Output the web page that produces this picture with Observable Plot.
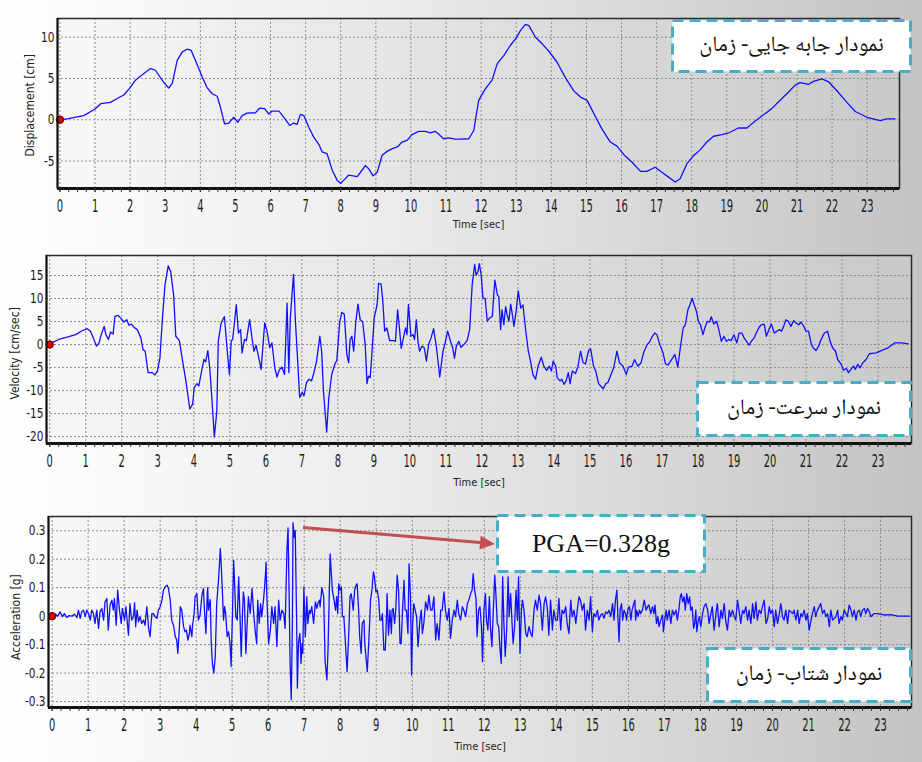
<!DOCTYPE html>
<html>
<head>
<meta charset="utf-8">
<script src="https://cdn.jsdelivr.net/npm/d3@7"></script>
<script src="https://cdn.jsdelivr.net/npm/@observablehq/plot@0.6"></script>
<style>
  html, body { margin: 0; padding: 0; }
  #root { position: relative; width: 922px; height: 762px; overflow: hidden;
          background: linear-gradient(to right, #ffffff 0%, #ededed 40%, #c3c3c3 100%); }
  #root > svg { position: absolute; left: 0; }
  .box { position: absolute; display: flex; align-items: center; justify-content: center; }
  .box svg { position: absolute; left: 0; top: 0; }
  .fa { position: relative; font-family: "Noto Naskh Arabic", "DejaVu Sans", sans-serif; font-size: 22px; color: #111; direction: rtl; white-space: nowrap; }
  .pga { position: relative; font-family: "Liberation Serif", "Times New Roman", serif; font-size: 26px; color: #111; white-space: nowrap; }
</style>
</head>
<body>
<div id="root"></div>
<script>
// ---------------- DATA ----------------
const timeTicks = [0,1,2,3,4,5,6,7,8,9,10,11,12,13,14,15,16,17,18,19,20,21,22,23];
const dispTicks = [-5, 0, 5, 10];
const velTicks = [-20, -15, -10, -5, 0, 5, 10, 15];
const accTicks = [-0.3, -0.2, -0.1, 0, 0.1, 0.2, 0.3];

// Displacement [cm] : [time s, value]
const displacement = [[0,0],[0.2,0.1],[0.68,0.5],[1.0,1.3],[1.16,1.95],[1.44,2.1],[1.68,2.7],[1.82,3.0],[2.0,3.9],[2.15,4.8],
[2.39,5.6],[2.58,6.2],[2.72,6.0],[2.96,4.5],[3.1,3.85],[3.2,4.4],[3.34,7.2],[3.48,8.2],[3.62,8.55],[3.74,8.4],
[3.9,6.8],[4.05,5.2],[4.19,3.9],[4.34,3.15],[4.48,2.85],[4.57,1.55],[4.69,-0.5],[4.81,-0.4],[4.95,0.3],[5.07,-0.3],
[5.19,0.5],[5.33,0.8],[5.57,0.85],[5.69,1.4],[5.83,1.35],[5.95,0.7],[6.05,1.05],[6.24,1.05],[6.38,0.3],[6.55,-0.7],
[6.66,-0.4],[6.76,-0.55],[6.85,0.65],[6.95,0.5],[7.09,-0.9],[7.23,-2.1],[7.38,-3.0],[7.47,-3.9],[7.61,-4.1],[7.76,-6.15],
[7.9,-7.35],[8.0,-7.7],[8.08,-7.35],[8.23,-6.7],[8.47,-6.9],[8.6,-6.15],[8.7,-5.55],[8.8,-5.95],[8.92,-6.8],[9.04,-6.35],
[9.18,-4.3],[9.33,-3.8],[9.47,-3.5],[9.61,-3.3],[9.75,-2.7],[9.89,-2.5],[10.03,-1.8],[10.22,-1.4],[10.41,-1.4],[10.55,-1.6],
[10.69,-1.4],[10.78,-1.7],[10.93,-2.3],[11.07,-2.2],[11.26,-2.35],[11.41,-2.35],[11.65,-2.3],[11.79,-1.3],[11.93,2.35],[12.12,3.75],
[12.31,4.8],[12.46,6.8],[12.65,7.8],[12.83,9.0],[12.98,9.8],[13.12,10.8],[13.26,11.55],[13.36,11.4],[13.55,10.0],[13.74,9.2],
[13.93,8.3],[14.16,7.0],[14.4,5.1],[14.64,3.5],[14.83,2.75],[15.02,2.35],[15.21,0.75],[15.44,-1.1],[15.68,-2.7],[15.87,-3.2],
[16.06,-4.2],[16.3,-5.15],[16.54,-6.25],[16.72,-6.25],[16.96,-5.75],[17.15,-6.35],[17.34,-6.95],[17.53,-7.55],[17.67,-7.15],[17.86,-5.35],
[18.05,-4.35],[18.24,-3.65],[18.43,-2.7],[18.62,-2.0],[18.86,-1.8],[19.05,-1.6],[19.33,-1.0],[19.57,-1.0],[19.81,-0.15],[20.0,0.45],
[20.28,1.35],[20.47,2.15],[20.71,3.15],[20.95,4.2],[21.09,4.5],[21.33,4.3],[21.47,4.65],[21.71,4.95],[21.9,4.6],[22.13,3.55],
[22.37,2.35],[22.66,1.0],[22.99,0.3],[23.37,-0.1],[23.56,0.1],[23.79,0.1]];

// Velocity [cm/sec]
const velocity = [[0,0],[0.11,0.6],[0.25,1.1],[0.48,1.6],[0.72,2.15],[0.9,3.0],[1.04,3.45],[1.13,2.9],[1.21,1.45],[1.3,-0.35],
[1.37,0.35],[1.43,2.15],[1.51,3.95],[1.56,2.15],[1.63,1.1],[1.69,2.75],[1.76,2.3],[1.81,6.1],[1.9,6.35],[1.97,5.75],
[2.06,4.9],[2.14,5.4],[2.2,4.2],[2.27,4.45],[2.34,3.75],[2.43,3.25],[2.53,1.45],[2.59,-1.1],[2.65,-1.45],[2.73,-6.1],
[2.85,-6.1],[2.92,-6.6],[2.99,-5.75],[3.06,-2.9],[3.13,5.75],[3.2,12.95],[3.29,17.1],[3.36,15.8],[3.44,10.8],[3.5,1.8],
[3.6,0.85],[3.69,-3.6],[3.78,-7.9],[3.89,-14.0],[3.97,-12.95],[4.01,-9.35],[4.09,-8.5],[4.14,-9.0],[4.2,-6.5],[4.28,-3.25],
[4.33,-3.75],[4.39,-1.3],[4.45,-5.75],[4.51,-12.6],[4.57,-20.1],[4.64,-14.4],[4.68,0.7],[4.76,4.7],[4.85,6.1],[4.93,-1.45],
[4.99,-6.5],[5.04,0.85],[5.08,1.1],[5.18,8.65],[5.24,2.5],[5.3,3.25],[5.34,-1.8],[5.41,1.1],[5.46,0.85],[5.55,5.4],
[5.61,1.8],[5.67,-1.45],[5.73,-0.15],[5.8,-2.75],[5.87,-5.4],[5.97,4.7],[6.03,3.0],[6.11,-0.7],[6.17,0.35],[6.25,-5.05],
[6.31,-7.05],[6.38,-5.4],[6.45,-4.9],[6.52,-6.5],[6.59,9.0],[6.64,-6.1],[6.68,5.75],[6.77,15.25],[6.82,5.4],[6.88,-2.9],
[6.94,-11.5],[7.01,-10.4],[7.06,-11.15],[7.13,-8.25],[7.2,-7.55],[7.27,-7.9],[7.33,-6.3],[7.41,-3.6],[7.5,1.8],[7.55,-1.45],
[7.6,-10.05],[7.69,-19.05],[7.75,-11.5],[7.83,-6.5],[7.93,-3.95],[7.97,-3.6],[8.05,4.7],[8.11,7.0],[8.18,6.6],[8.25,-2.15],
[8.3,-3.95],[8.34,1.1],[8.39,1.8],[8.44,-1.45],[8.5,5.05],[8.56,8.8],[8.62,5.4],[8.69,4.9],[8.76,0],[8.81,-8.5],
[8.85,-6.85],[8.9,-7.2],[8.95,-1.45],[9.01,5.75],[9.09,8.65],[9.13,13.3],[9.2,13.15],[9.25,9.35],[9.3,2.9],[9.36,3.6],
[9.44,0.85],[9.55,0.85],[9.6,0.7],[9.66,7.55],[9.71,3.6],[9.76,-0.85],[9.83,1.8],[9.88,3.6],[9.92,2.15],[9.96,8.65],
[10.03,1.8],[10.09,2.15],[10.13,1.1],[10.18,5.4],[10.23,0.35],[10.27,-1.45],[10.34,-0.35],[10.4,-0.7],[10.46,-3.6],[10.52,0],
[10.59,1.45],[10.66,3.45],[10.74,-0.7],[10.83,-7.05],[10.92,-1.45],[10.99,0.7],[11.05,2.9],[11.13,0.7],[11.19,-0.7],[11.24,-3.0],
[11.29,-0.35],[11.36,0.7],[11.42,-0.6],[11.5,0],[11.59,0.85],[11.66,3.25],[11.73,12.95],[11.8,17.4],[11.84,15.1],[11.89,15.8],
[11.93,17.6],[11.98,15.1],[12.03,10.05],[12.09,10.05],[12.15,5.05],[12.21,5.75],[12.29,6.1],[12.33,10.8],[12.36,14.0],[12.43,10.8],
[12.47,10.4],[12.52,3.25],[12.56,7.55],[12.61,4.3],[12.66,8.25],[12.7,6.5],[12.75,5.05],[12.8,8.8],[12.84,6.85],[12.89,3.95],
[12.95,7.2],[13.01,11.65],[13.08,7.9],[13.14,8.65],[13.22,2.9],[13.29,-1.45],[13.35,-3.6],[13.42,-6.6],[13.49,-7.55],[13.56,-4.7],
[13.65,-2.75],[13.72,-4.7],[13.8,-5.6],[13.87,-4.7],[13.93,-5.75],[13.98,-3.6],[14.05,-4.7],[14.09,-7.2],[14.17,-7.9],[14.22,-7.55],
[14.28,-8.65],[14.34,-7.9],[14.4,-6.1],[14.45,-8.5],[14.51,-5.75],[14.6,-6.3],[14.67,-4.7],[14.74,-1.45],[14.81,-3.95],[14.88,-4.2],
[14.96,-1.3],[15.02,-0.95],[15.1,-4.7],[15.16,-5.75],[15.24,-8.5],[15.3,-9.0],[15.37,-9.6],[15.44,-8.5],[15.5,-8.25],[15.56,-7.05],
[15.66,-5.05],[15.75,-1.45],[15.82,-3.95],[15.92,-4.7],[16.01,-6.5],[16.07,-4.9],[16.17,-4.7],[16.24,-3.25],[16.33,-4.7],[16.42,-3.95],
[16.49,-1.8],[16.59,0],[16.66,0.6],[16.72,1.6],[16.8,2.5],[16.86,2.15],[16.94,0],[17.03,-1.8],[17.1,-4.2],[17.17,-4.45],
[17.24,-3.6],[17.3,-2.9],[17.36,-2.15],[17.44,-4.9],[17.51,-0.7],[17.59,3.6],[17.65,4.3],[17.72,7.55],[17.78,8.65],[17.84,10.05],
[17.91,8.25],[17.96,7.2],[18.01,5.05],[18.07,4.3],[18.14,2.15],[18.19,3.6],[18.26,5.05],[18.32,4.9],[18.37,6.05],[18.44,4.45],
[18.52,5.05],[18.58,3.25],[18.65,0.7],[18.72,1.8],[18.79,0.7],[18.86,1.1],[18.92,0.85],[19.0,2.15],[19.08,0.35],[19.14,2.5],
[19.22,2.5],[19.28,1.45],[19.35,0.7],[19.42,-0.15],[19.48,0.7],[19.56,1.45],[19.62,2.5],[19.7,3.75],[19.76,4.3],[19.84,4.45],
[19.9,1.8],[19.98,3.45],[20.04,4.45],[20.12,2.5],[20.19,2.9],[20.26,3.25],[20.32,2.9],[20.38,3.95],[20.44,5.4],[20.51,5.05],
[20.58,3.95],[20.66,5.2],[20.72,4.7],[20.8,4.3],[20.86,4.9],[20.94,3.95],[21.0,2.9],[21.07,2.9],[21.14,0.35],[21.2,-0.7],
[21.28,-1.3],[21.35,-0.35],[21.42,1.1],[21.51,2.5],[21.6,2.9],[21.67,0.7],[21.74,-0.7],[21.82,-1.45],[21.88,-3.25],[21.98,-4.3],
[22.04,-5.6],[22.12,-5.2],[22.18,-6.1],[22.25,-5.4],[22.32,-4.7],[22.37,-5.4],[22.44,-4.3],[22.5,-5.05],[22.58,-3.95],[22.67,-3.25],
[22.76,-2.0],[22.95,-1.8],[23.09,-1.3],[23.28,-0.7],[23.46,0.35],[23.65,0.35],[23.84,0.15]];

// Acceleration [g]
const acceleration = [[0.01,0],[0.08,0.007],[0.16,0],[0.22,0.015],[0.29,-0.002],[0.34,0.009],[0.41,-0.005],[0.47,0.002],[0.55,0],[0.62,0.007],
[0.69,-0.005],[0.73,0.021],[0.78,-0.008],[0.82,0.015],[0.87,0.021],[0.92,-0.002],[0.96,0.021],[1.01,0.009],[1.06,-0.014],[1.10,0.021],
[1.15,0.009],[1.19,-0.026],[1.24,0.021],[1.29,-0.043],[1.33,0.015],[1.38,0.027],[1.43,-0.014],[1.47,0.05],[1.52,0.062],[1.56,-0.049],
[1.61,0.039],[1.66,0.056],[1.70,0.021],[1.73,0.062],[1.78,-0.032],[1.82,0.091],[1.87,0.021],[1.92,-0.026],[1.95,0.027],[2.01,-0.014],
[2.05,0.033],[2.09,-0.026],[2.12,-0.067],[2.16,0.044],[2.21,-0.014],[2.26,-0.002],[2.29,0.047],[2.32,-0.037],[2.36,0.021],[2.40,-0.02],
[2.44,-0.002],[2.49,-0.026],[2.54,-0.014],[2.58,-0.032],[2.63,0.033],[2.68,-0.043],[2.72,-0.072],[2.77,0.009],[2.81,0.009],[2.86,-0.002],
[2.91,-0.008],[2.95,0.021],[3.00,0.033],[3.05,0.056],[3.09,0.091],[3.14,0.103],[3.19,0.109],[3.23,0.097],[3.28,0.056],[3.32,-0.014],
[3.37,-0.032],[3.42,-0.072],[3.46,-0.084],[3.49,-0.131],[3.53,-0.049],[3.56,0.033],[3.60,0.021],[3.65,-0.037],[3.69,-0.055],[3.73,-0.049],
[3.77,-0.084],[3.81,-0.061],[3.83,-0.032],[3.88,-0.072],[3.90,-0.032],[3.94,0.004],[3.97,0.068],[4.02,0.079],[4.06,-0.014],[4.11,0.004],
[4.16,0.074],[4.20,0.097],[4.23,0.021],[4.27,-0.061],[4.31,0.085],[4.32,0.1],[4.34,0.021],[4.39,0.058],[4.42,-0.096],[4.45,-0.166],
[4.49,-0.2],[4.53,-0.142],[4.57,0.044],[4.62,0.126],[4.67,0.237],[4.69,0.196],[4.73,0.079],[4.76,-0.014],[4.79,0.033],[4.82,0.009],
[4.86,-0.072],[4.90,-0.055],[4.94,-0.096],[4.97,-0.177],[5.01,0.021],[5.04,0.196],[5.06,0.138],[5.10,-0.002],[5.14,-0.014],[5.18,0.138],
[5.22,-0.014],[5.25,-0.142],[5.29,0.021],[5.31,0.085],[5.34,0.056],[5.38,-0.131],[5.42,-0.014],[5.45,0.068],[5.50,0.009],[5.55,0.097],
[5.59,0.021],[5.64,-0.055],[5.68,-0.096],[5.71,0.056],[5.75,-0.026],[5.79,0.044],[5.82,-0.002],[5.87,0.056],[5.92,0.138],[5.94,0.19],
[5.96,0.079],[6.01,-0.096],[6.06,-0.049],[6.10,0.033],[6.15,-0.026],[6.19,0.033],[6.24,-0.107],[6.29,0.056],[6.33,-0.014],[6.38,0.021],
[6.43,0.009],[6.47,-0.043],[6.52,0.231],[6.55,0.31],[6.58,0.079],[6.61,-0.177],[6.64,-0.294],[6.67,-0.037],[6.69,0.328],[6.72,0.278],
[6.75,0.301],[6.79,-0.026],[6.81,-0.253],[6.84,-0.096],[6.88,-0.061],[6.91,-0.166],[6.94,-0.096],[6.96,-0.131],[6.99,0.103],[7.03,-0.072],
[7.07,0.068],[7.10,-0.026],[7.14,0.021],[7.17,0.009],[7.21,0.033],[7.26,-0.026],[7.31,0.05],[7.35,0.027],[7.38,0.044],[7.42,0.056],
[7.44,0.033],[7.49,0.1],[7.54,0.068],[7.58,-0.16],[7.63,-0.224],[7.66,-0.119],[7.69,0.044],[7.72,0.219],[7.78,0.091],[7.82,0.062],
[7.87,0.021],[7.90,0.068],[7.93,0.009],[7.96,0.114],[7.99,0.091],[8.03,0.103],[8.06,-0.002],[8.10,-0.002],[8.15,-0.107],[8.19,-0.195],
[8.24,-0.049],[8.27,0.068],[8.30,0.079],[8.33,0.056],[8.36,0.021],[8.40,0.091],[8.44,0.109],[8.47,0.114],[8.51,0.021],[8.54,-0.072],
[8.58,-0.131],[8.61,-0.026],[8.66,-0.014],[8.68,-0.096],[8.73,-0.166],[8.75,-0.195],[8.79,-0.096],[8.82,-0.014],[8.84,0.056],[8.88,0.091],
[8.92,0.155],[8.95,0.138],[8.99,0.085],[9.03,0.091],[9.07,0.056],[9.10,-0.014],[9.14,-0.014],[9.17,0.009],[9.21,-0.119],[9.25,-0.119],
[9.29,0.021],[9.30,0.079],[9.34,-0.067],[9.38,0.021],[9.42,-0.061],[9.44,0.021],[9.47,0.027],[9.51,-0.026],[9.54,0.021],[9.58,0.144],
[9.62,0.091],[9.66,-0.096],[9.69,-0.096],[9.73,0.021],[9.77,0.126],[9.80,0.021],[9.84,0.021],[9.88,-0.061],[9.91,0.184],[9.95,0.068],
[9.98,-0.207],[10.01,-0.026],[10.04,0.044],[10.08,0.021],[10.12,-0.002],[10.16,-0.107],[10.18,-0.072],[10.21,-0.014],[10.25,0.021],[10.28,-0.061],
[10.32,-0.026],[10.37,0.05],[10.42,0.021],[10.46,0.074],[10.51,0.021],[10.55,0.021],[10.60,0.068],[10.65,-0.084],[10.69,-0.026],[10.74,-0.084],
[10.79,0.021],[10.83,0.021],[10.88,0.085],[10.92,0.021],[10.97,-0.014],[11.02,0.027],[11.06,-0.078],[11.11,-0.014],[11.16,0.021],[11.20,-0.002],
[11.25,0.056],[11.29,0.009],[11.34,-0.014],[11.39,0.033],[11.43,0.021],[11.48,-0.002],[11.53,0.044],[11.57,0.056],[11.62,0.079],[11.66,0.091],
[11.69,0.149],[11.73,0.091],[11.77,0.062],[11.80,-0.072],[11.84,0.021],[11.88,0.033],[11.92,-0.037],[11.95,-0.16],[11.99,0.021],[12.03,0.079],
[12.06,-0.014],[12.10,-0.049],[12.14,0.068],[12.17,-0.037],[12.21,-0.107],[12.25,0.021],[12.29,0.144],[12.32,0.079],[12.36,-0.026],[12.40,-0.037],
[12.43,-0.107],[12.47,-0.166],[12.51,0.138],[12.54,-0.014],[12.58,-0.142],[12.62,-0.049],[12.66,0.138],[12.69,-0.002],[12.73,0.079],[12.77,-0.026],
[12.80,-0.096],[12.84,-0.037],[12.88,0.091],[12.92,-0.014],[12.95,0.138],[12.99,-0.131],[13.03,0.021],[13.06,0.056],[13.10,0.021],[13.15,-0.061],
[13.19,-0.072],[13.24,-0.037],[13.29,-0.061],[13.33,-0.072],[13.38,0.021],[13.42,0.056],[13.47,0.021],[13.52,0.074],[13.56,0.044],[13.61,-0.049],
[13.66,0.044],[13.70,0.068],[13.75,0.027],[13.79,-0.067],[13.84,0.056],[13.89,-0.049],[13.93,0.021],[13.98,-0.014],[14.03,-0.014],[14.07,0.062],
[14.12,-0.049],[14.16,0.021],[14.21,0.009],[14.26,0.033],[14.30,-0.026],[14.35,-0.061],[14.40,0.056],[14.44,-0.002],[14.49,0.021],[14.54,-0.026],
[14.58,0.021],[14.63,0.068],[14.67,0.056],[14.72,0.021],[14.77,0.044],[14.81,-0.049],[14.86,0.021],[14.91,-0.014],[14.95,0.068],[15.00,-0.055],
[15.04,0.009],[15.09,-0.002],[15.14,0.021],[15.18,-0.014],[15.23,0.004],[15.28,0.009],[15.32,-0.008],[15.37,0.015],[15.42,0.009],[15.46,0.021],
[15.51,-0.002],[15.56,0.044],[15.60,-0.014],[15.64,0.056],[15.68,0.091],[15.71,-0.002],[15.74,-0.09],[15.77,0.021],[15.81,0.044],[15.84,-0.014],
[15.88,0.021],[15.92,0.009],[15.95,-0.014],[15.99,0.027],[16.03,0.033],[16.07,-0.014],[16.10,0.021],[16.14,0.039],[16.18,0.056],[16.20,-0.014],
[16.23,0.021],[16.27,-0.002],[16.31,0.021],[16.34,0.009],[16.39,0.021],[16.44,0.056],[16.46,0.044],[16.49,0.021],[16.53,0.033],[16.57,0.039],
[16.62,0.009],[16.67,0.033],[16.71,0.009],[16.74,0.039],[16.78,-0.026],[16.82,-0.002],[16.85,-0.037],[16.90,-0.014],[16.95,0.004],[16.97,-0.055],
[17.01,-0.014],[17.05,0.021],[17.08,-0.014],[17.13,0.021],[17.18,-0.026],[17.22,0.021],[17.27,0.004],[17.32,0.021],[17.36,-0.014],[17.40,0.021],
[17.44,0.068],[17.47,0.079],[17.51,0.05],[17.55,0.068],[17.58,0.021],[17.62,0.079],[17.66,0.044],[17.70,0.068],[17.73,0.021],[17.77,0.033],
[17.81,-0.043],[17.84,-0.026],[17.87,0.021],[17.90,-0.055],[17.94,-0.014],[17.97,-0.002],[18.01,-0.037],[18.06,0.009],[18.10,0.033],[18.15,0.044],
[18.20,0.021],[18.24,-0.026],[18.29,0.009],[18.33,0.033],[18.38,-0.049],[18.43,0.009],[18.47,0.044],[18.52,-0.037],[18.57,0.021],[18.61,-0.008],
[18.66,0.044],[18.70,-0.014],[18.75,-0.049],[18.80,0.021],[18.84,-0.002],[18.89,0.021],[18.94,-0.002],[18.98,-0.014],[19.03,0.056],[19.07,0.021],
[19.12,-0.026],[19.17,0.021],[19.21,0.009],[19.26,0.033],[19.31,-0.014],[19.35,0.021],[19.40,-0.026],[19.45,0.044],[19.49,-0.008],[19.54,0.05],
[19.58,-0.014],[19.63,0.021],[19.68,0.009],[19.72,0.033],[19.77,0.056],[19.82,-0.026],[19.86,-0.014],[19.91,0.033],[19.95,0.009],[20.00,0.021],
[20.05,-0.037],[20.09,0.021],[20.14,-0.026],[20.19,0.009],[20.23,0.044],[20.28,-0.002],[20.32,-0.014],[20.37,0.021],[20.42,-0.026],[20.46,0.021],
[20.56,0.009],[20.60,0.021],[20.65,-0.014],[20.70,0.021],[20.74,-0.026],[20.79,0.009],[20.83,-0.002],[20.88,0.021],[20.93,-0.014],[20.97,0.009],
[21.02,-0.049],[21.07,-0.014],[21.11,0.009],[21.16,0.033],[21.20,-0.002],[21.25,0.021],[21.34,0.044],[21.39,0.009],[21.44,0.021],[21.48,-0.002],
[21.53,0.009],[21.58,-0.037],[21.62,0.021],[21.67,-0.014],[21.76,-0.002],[21.81,0.021],[21.85,-0.026],[21.90,-0.002],[21.94,-0.014],[21.99,0.021],
[22.04,0.009],[22.08,-0.002],[22.13,0.039],[22.18,0.021],[22.22,-0.002],[22.27,0.021],[22.32,-0.014],[22.36,0.015],[22.41,0.021],[22.45,-0.002],
[22.50,0.021],[22.55,0.027],[22.59,0.009],[22.64,0.027],[22.69,0.015],[22.73,-0.002],[22.82,0.009],[22.92,0.009],[23.10,0.004],[23.29,0.005],
[23.47,0],[23.80,0]];

// Annotations
const pgaLabel = "PGA=0.328g";
const pgaArrow = {t1: 6.98, a1: 0.31, t2: 12.31, a2: 0.252};
const titles = ["نمودار جابه جایی- زمان", "نمودار سرعت- زمان", "نمودار شتاب- زمان"];
const yLabels = ["Displacement [cm]", "Velocity [cm/sec]", "Acceleration [g]"];
const xLabel = "Time [sec]";

// ---------------- RENDER ----------------
const root = document.getElementById("root");
const NARROW = '"Liberation Sans Narrow","DejaVu Sans Condensed","Arial Narrow","Liberation Sans",sans-serif';
const minorTicks = d3.range(0, 23.9, 0.25);

// stretch each text about its anchor point (horizontal anchor: "middle" | "end")
function stretchTexts(svg, selector, kx, ky, anchor) {
  svg.querySelectorAll(selector).forEach(t => {
    if (!t.textContent) return;
    const bb = t.getBBox();
    const cy = bb.y + bb.height / 2;
    const cx = anchor === "end" ? bb.x + bb.width : bb.x + bb.width / 2;
    const prev = t.getAttribute("transform") || "";
    t.setAttribute("transform", `${prev} translate(${cx},${cy}) scale(${kx},${ky}) translate(${-cx},${-cy})`);
  });
}

function makePanel(cfg) {
  const data = cfg.series.map(([t, v]) => ({t, v}));
  const plot = Plot.plot({
    width: 922, height: cfg.height,
    marginTop: cfg.mt, marginBottom: cfg.mb, marginLeft: cfg.ml, marginRight: cfg.mr,
    style: {background: "transparent", overflow: "visible", color: "#1a1a1a"},
    x: {domain: cfg.xDomain},
    y: {domain: cfg.yDomain},
    marks: [
      Plot.frame({fill: `url(#bg-${cfg.id})`}),
      Plot.ruleX(timeTicks, {stroke: "#8e8e8e", strokeWidth: 1, strokeDasharray: "2,2"}),
      Plot.ruleY(cfg.yTicks, {stroke: "#8e8e8e", strokeWidth: 1, strokeDasharray: "2,2"}),
      Plot.line(data, {x: "t", y: "v", stroke: "#1010ff", strokeWidth: 1.3}),
      Plot.dot([{t: 0, v: 0}], {x: "t", y: "v", r: 3.7, fill: "#e00000", stroke: "#5a0000", strokeWidth: 1}),
      Plot.frame({stroke: "#2a2a2a", strokeWidth: 1.5}),
      Plot.ruleY([cfg.yDomain[0]], {stroke: "#111", strokeWidth: 3}),
      Plot.ruleX([cfg.xDomain[0]], {stroke: "#111", strokeWidth: 2}),
      Plot.axisX(minorTicks, {anchor: "bottom", tickSize: 4, tickFormat: () => "", label: null, stroke: "#333"}),
      Plot.axisX(timeTicks, {anchor: "bottom", tickSize: 4, tickPadding: 9, tickFormat: d => String(d),
        fontSize: 13, fontFamily: NARROW, label: null, stroke: "#333"}),
      Plot.axisY(cfg.yTicks, {anchor: "left", tickSize: 0, tickPadding: 3, tickFormat: d => String(d),
        fontSize: 13, fontFamily: NARROW, label: null}),
      // rotated label: starts below the frame centre and runs upward
      Plot.text([cfg.ylabel], {text: d => d, frameAnchor: "left", dx: cfg.ylabelDx, dy: cfg.ylabelHalf,
        rotate: -90, textAnchor: "start", fontSize: 12, fontFamily: NARROW, fill: "#222", ariaLabel: "ylabel"}),
      Plot.text([xLabel], {text: d => d, frameAnchor: "bottom", dy: cfg.timeDy,
        fontSize: 11, fontFamily: NARROW, fill: "#222", ariaLabel: "xlabel"})
    ]
  });
  const defs = d3.select(plot).insert("defs", ":first-child");
  const grad = defs.append("linearGradient").attr("id", `bg-${cfg.id}`)
    .attr("x1", 0).attr("x2", 1).attr("y1", 0).attr("y2", 0);
  grad.append("stop").attr("offset", "0%").attr("stop-color", "#f8f8f8");
  grad.append("stop").attr("offset", "100%").attr("stop-color", "#c9c9c9");
  plot.style.top = cfg.top + "px";
  root.appendChild(plot);
  stretchTexts(plot, 'g[aria-label="x-axis tick label"] text', 0.85, 1.3, "middle");
  stretchTexts(plot, 'g[aria-label="y-axis tick label"] text', 0.9, 1.1, "end");
  stretchTexts(plot, 'g[aria-label="xlabel"] text', 0.8, 1.25, "middle");
  return plot;
}

makePanel({id: "d", top: 0, height: 240, mt: 18, mb: 52, ml: 57, mr: 23,
  xDomain: [-0.07, 23.92], yDomain: [-8.33, 12.27], yTicks: dispTicks,
  series: displacement, ylabel: yLabels[0], ylabelDx: -27, ylabelHalf: 53, timeDy: 39});

makePanel({id: "v", top: 240, height: 250, mt: 15, mb: 47, ml: 46, mr: 11,
  xDomain: [-0.09, 23.93], yDomain: [-21.5, 19.35], yTicks: velTicks,
  series: velocity, ylabel: yLabels[1], ylabelDx: -31, ylabelHalf: 50, timeDy: 42});

const accPlot = makePanel({id: "a", top: 490, height: 272, mt: 26, mb: 55, ml: 48, mr: 11,
  xDomain: [-0.1, 23.86], yDomain: [-0.321, 0.35], yTicks: accTicks,
  series: acceleration, ylabel: yLabels[2], ylabelDx: -32, ylabelHalf: 48, timeDy: 42});

// PGA arrow drawn through the acceleration plot's scales
{
  const sx = accPlot.scale("x"), sy = accPlot.scale("y");
  const x1 = sx.apply(pgaArrow.t1), y1 = sy.apply(pgaArrow.a1);
  const x2 = sx.apply(pgaArrow.t2), y2 = sy.apply(pgaArrow.a2);
  const ang = Math.atan2(y2 - y1, x2 - x1);
  const L = 15, W = 7;
  const bx = x2 - L * Math.cos(ang), by = y2 - L * Math.sin(ang);
  const g = d3.select(accPlot).append("g");
  g.append("line").attr("x1", x1).attr("y1", y1).attr("x2", bx).attr("y2", by)
    .attr("stroke", "#c0504d").attr("stroke-width", 3);
  g.append("polygon").attr("fill", "#c0504d").attr("points", [
    [x2, y2],
    [bx + W * Math.sin(ang), by - W * Math.cos(ang)],
    [bx - W * Math.sin(ang), by + W * Math.cos(ang)]
  ].map(p => p.join(",")).join(" "));
}

// Annotation boxes
function makeBox(x, y, w, h, text, cls) {
  const div = document.createElement("div");
  div.className = "box";
  Object.assign(div.style, {left: x + "px", top: y + "px", width: w + "px", height: h + "px"});
  div.innerHTML = `<svg width="${w}" height="${h}"><rect x="1.5" y="1.5" width="${w - 3}" height="${h - 3}" fill="#ffffff" stroke="#4bacc6" stroke-width="3" stroke-dasharray="11,6"/></svg><span class="${cls}"${cls === "fa" ? ' dir="rtl"' : ""}>${text}</span>`;
  root.appendChild(div);
}
makeBox(671, 19, 241, 54, titles[0], "fa");
makeBox(696, 381, 216, 56, titles[1], "fa");
makeBox(496, 514, 210, 59, pgaLabel, "pga");
makeBox(706, 647, 206, 56, titles[2], "fa");
</script>
</body>
</html>
